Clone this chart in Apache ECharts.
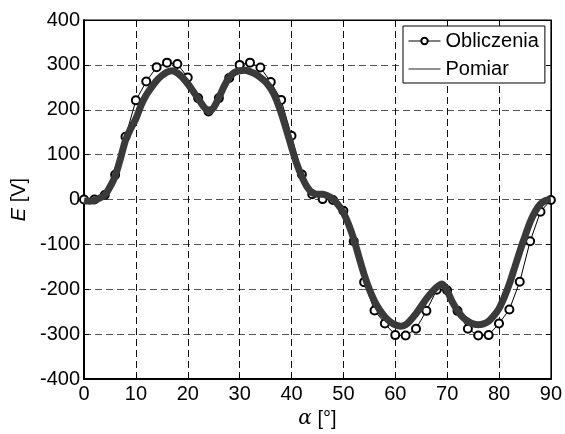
<!DOCTYPE html>
<html>
<head>
<meta charset="utf-8">
<script src="https://cdn.jsdelivr.net/npm/echarts@6/dist/echarts.min.js"></script>
<style>html,body{margin:0;padding:0;background:#fff}#c{width:565px;height:434px}</style>
</head>
<body>
<div id="c"></div>
<script>
// Obliczenia (computed), every 2 degrees
var alphaCalc = [0,2,4,6,8,10,12,14,16,18,20,22,24,26,28,30,32,34,36,38,40,42,44,46,48,50,52,54,56,58,60,62,64,66,68,70,72,74,76,78,80,82,84,86,88,90];
var eCalc = [0,0,10,55,140,221,263,295,305,302,272,226,196,226,271,300,305,294,262,222,142,56,12,1,-1,-25,-93,-184,-247,-276,-302,-303,-288,-248,-201,-202,-248,-288,-303,-302,-276,-245,-183,-93,-27,-1];
// Pomiar (measured), every 1 degree
var alphaMeas = [0,1,2,3,4,5,6,7,8,9,10,11,12,13,14,15,16,17,18,19,20,21,22,23,24,25,26,27,28,29,30,31,32,33,34,35,36,37,38,39,40,41,42,43,44,45,46,47,48,49,50,51,52,53,54,55,56,57,58,59,60,61,62,63,64,65,66,67,68,69,70,71,72,73,74,75,76,77,78,79,80,81,82,83,84,85,86,87,88,89,90];
var eMeas = [-3,-4,-2,3,10,28,52,90,132,158,180,210,233,250,265,276,284,287,282,272,258,242,225,208,197,205,227,252,272,283,287,288,285,280,272,262,247,225,193,156,117,80,51,28,15,12,12,8,1,-12,-29,-55,-88,-128,-167,-200,-226,-246,-261,-272,-279,-282,-279,-268,-254,-238,-221,-207,-195,-188,-203,-228,-247,-262,-271,-277,-279,-277,-271,-259,-243,-218,-188,-152,-116,-82,-50,-26,-10,-2,0];
var xTicks = {min:0, max:90, interval:10};
var yTicks = {min:-400, max:400, interval:100};

function zip(a,b){var r=[];for(var i=0;i<a.length;i++)r.push([a[i],b[i]]);return r;}

var FONT = 'Liberation Sans';
var chart = echarts.init(document.getElementById('c'), null, {renderer:'canvas'});
chart.setOption({
  animation:false,
  textStyle:{fontFamily:FONT},
  grid:{left:84, right:12, top:20, bottom:47, show:true, borderColor:'#000', borderWidth:1, backgroundColor:'transparent'},
  legend:{
    orient:'vertical', left:403, top:26,
    backgroundColor:'#fff', borderColor:'#000', borderWidth:1, borderRadius:0,
    padding:[5,6,4,5], itemGap:8, itemWidth:32, itemHeight:8,
    textStyle:{fontFamily:FONT, fontSize:20, color:'#000', lineHeight:20},
    data:[
      {name:'Obliczenia', lineStyle:{width:1, color:'#000'}},
      {name:'Pomiar', icon:'path://M0,0 L64,0 L64,2 L0,2 Z', itemStyle:{color:'#222'}}
    ]
  },
  xAxis:[{
    type:'value', min:xTicks.min, max:xTicks.max, interval:xTicks.interval,
    name:'{a|α} [°]', nameLocation:'middle', nameGap:22,
    nameTextStyle:{fontFamily:FONT, fontSize:20, color:'#000', rich:{a:{fontFamily:'DejaVu Serif', fontStyle:'italic', fontSize:20, color:'#000'}}},
    axisLine:{show:true, onZero:false, lineStyle:{color:'#000', width:2}},
    axisTick:{show:true, inside:true, length:5, lineStyle:{color:'#000'}},
    axisLabel:{fontFamily:FONT, fontSize:20, color:'#000', margin:5},
    splitLine:{show:true, lineStyle:{color:'#111', width:1, type:[7,4]}}
  },{
    type:'value', position:'top', min:xTicks.min, max:xTicks.max, interval:xTicks.interval,
    axisLine:{show:true, onZero:false, lineStyle:{color:'#000', width:1}},
    axisTick:{show:true, inside:true, length:5, lineStyle:{color:'#000'}},
    axisLabel:{show:false}, splitLine:{show:false}
  }],
  yAxis:[{
    type:'value', min:yTicks.min, max:yTicks.max, interval:yTicks.interval,
    name:'{i|E} [V]', nameLocation:'middle', nameGap:50, nameRotate:90,
    nameTextStyle:{fontFamily:FONT, fontSize:20, color:'#000', rich:{i:{fontFamily:FONT, fontStyle:'italic', fontSize:20, color:'#000'}}},
    axisLine:{show:true, onZero:false, lineStyle:{color:'#000', width:2}},
    axisTick:{show:true, inside:true, length:5, lineStyle:{color:'#000'}},
    axisLabel:{fontFamily:FONT, fontSize:20, color:'#000', margin:4},
    splitLine:{show:true, lineStyle:{color:'#555', width:1, type:[7,4]}}
  },{
    type:'value', position:'right', min:yTicks.min, max:yTicks.max, interval:yTicks.interval,
    axisLine:{show:true, onZero:false, lineStyle:{color:'#000', width:1}},
    axisTick:{show:true, inside:true, length:5, lineStyle:{color:'#000'}},
    axisLabel:{show:false}, splitLine:{show:false}
  }],
  series:[{
    name:'Obliczenia', type:'line', data:zip(alphaCalc,eCalc),
    symbol:'emptyCircle', symbolSize:8, showSymbol:true, showAllSymbol:true,
    lineStyle:{color:'#000', width:1},
    itemStyle:{color:'#000', borderColor:'#000', borderWidth:1},
    z:2
  },{
    name:'Pomiar', type:'line', data:zip(alphaMeas,eMeas),
    symbol:'none', smooth:0.3,
    lineStyle:{color:'#3a3a3a', width:7},
    itemStyle:{color:'#3a3a3a'},
    z:3
  }]
});
</script>
</body>
</html>
